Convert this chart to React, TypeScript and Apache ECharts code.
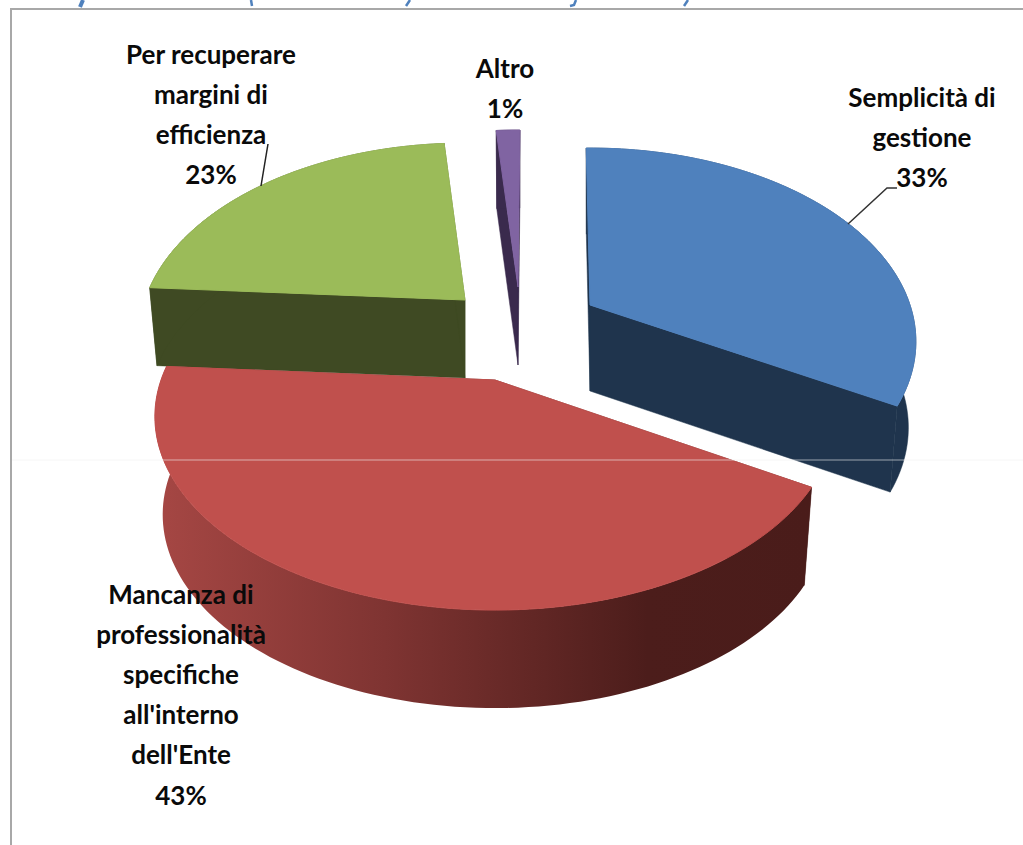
import React, { useEffect, useRef } from "react";
import * as echarts from "echarts";

// Data
const CATEGORIES = [
  "Semplicità di\ngestione",
  "Mancanza di\nprofessionalità\nspecifiche\nall'interno\ndell'Ente",
  "Per recuperare\nmargini di\nefficienza",
  "Altro",
];
const VALUES = [33.4, 42.5, 22.7, 1.4];

// Style / layout
const START_ANGLE = -1.4;
const TILT_K = 0.189;
const RY = 186.6;
const COLORS = ["#4f81bd", "#c0504d", "#9bbb59", "#8064a2"];
const DARK = ["#1f344d", "#4a1c1a", "#3f4a23", "#3a2a4d"];
const SLICE_LAYOUT = [
  { ax: 590, ay: 305, rx: 320, depth: 86, nudge: 0.6, z: 2 },
  { ax: 495, ay: 380, rx: 334, depth: 98, nudge: 2.4, z: 10 },
  { ax: 465, ay: 300, rx: 320, depth: 78, nudge: 2.0, z: 2 },
  { ax: 518, ay: 287, rx: 320, depth: 78, nudge: 1.8, z: 2 },
];
const LABEL_POS = [
  { x: 922, y: 137 },
  { x: 181, y: 694 },
  { x: 211, y: 114 },
  { x: 505, y: 88 },
];
const FONT = { fontFamily: "Lato", fontWeight: "bold" as const, fontSize: 26 };

function angles() {
  const total = VALUES.reduce((a, b) => a + b, 0);
  let cur = START_ANGLE;
  return VALUES.map((v, i) => {
    const a0 = cur + SLICE_LAYOUT[i].nudge;
    const span = (v / total) * 360;
    cur += span;
    return [a0, a0 + span];
  });
}

function project(i: number, deg: number, bottom: boolean): [number, number] {
  const s = SLICE_LAYOUT[i];
  const t = (deg * Math.PI) / 180;
  const w = 1 + TILT_K * Math.cos(t);
  const bs = bottom ? 0.977 : 1;
  return [
    s.ax + (s.rx * bs * Math.sin(t)) / w,
    s.ay - (RY * Math.cos(t)) / w + (bottom ? s.depth : 0),
  ];
}

function renderSlice(params: any) {
  const i = params.dataIndex;
  const [a0, a1] = angles()[i];
  const s = SLICE_LAYOUT[i];
  const steps = Math.max(8, Math.round((a1 - a0) / 1.5));
  const arcTop: [number, number][] = [];
  const arcBot: [number, number][] = [];
  for (let n = 0; n <= steps; n++) {
    const d = a0 + ((a1 - a0) * n) / steps;
    arcTop.push(project(i, d, false));
    arcBot.push(project(i, d, true));
  }
  const apexT: [number, number] = [s.ax, s.ay];
  const apexB: [number, number] = [s.ax, s.ay + s.depth];
  const wallFill: any =
    i === 1
      ? new echarts.graphic.LinearGradient(0, 0, 1, 0, [
          { offset: 0, color: "#a64744" },
          { offset: 0.35, color: "#7f3432" },
          { offset: 0.75, color: "#4c1d1b" },
          { offset: 1, color: "#4a1c1a" },
        ])
      : DARK[i];
  const flat = DARK[i];
  return {
    type: "group",
    children: [
      {
        type: "polygon",
        z2: s.z,
        shape: { points: [apexT, apexB, arcBot[0], arcTop[0]] },
        style: { fill: flat, stroke: flat, lineWidth: 0.5 },
      },
      {
        type: "polygon",
        z2: s.z,
        shape: { points: [apexT, apexB, arcBot[steps], arcTop[steps]] },
        style: { fill: flat, stroke: flat, lineWidth: 0.5 },
      },
      {
        type: "polygon",
        z2: s.z + 1,
        shape: { points: [...arcTop, ...arcBot.slice().reverse()] },
        style: { fill: wallFill, stroke: i === 1 ? undefined : flat, lineWidth: 0.5 },
      },
      {
        type: "polygon",
        z2: s.z + 2,
        shape: { points: [apexT, ...arcTop] },
        style: { fill: COLORS[i], stroke: COLORS[i], lineWidth: 1 },
      },
    ],
  };
}

export default function App() {
  const ref = useRef<HTMLDivElement>(null);
  useEffect(() => {
    const chart = echarts.init(ref.current!, undefined, { renderer: "svg" });
    const labels = CATEGORIES.map((c, i) => ({
      type: "text",
      x: LABEL_POS[i].x,
      y: LABEL_POS[i].y,
      z: 20,
      style: {
        text: `${c}\n${Math.round(VALUES[i])}%`,
        align: "center",
        verticalAlign: "middle",
        lineHeight: 40.2,
        fill: "#0a0a0a",
        ...FONT,
      },
    }));
    const stroke = (points: number[][], color: string, lineWidth: number, z = 15) => ({
      type: "polyline",
      z,
      shape: { points },
      style: { stroke: color, lineWidth, fill: "none" },
    });
    chart.setOption({
      animation: false,
      backgroundColor: "#ffffff",
      series: [
        {
          type: "custom",
          coordinateSystem: "none",
          silent: true,
          renderItem: renderSlice,
          data: VALUES.map((v) => [v]),
        },
      ],
      graphic: [
        stroke([[11, 845], [11, 9], [1023, 9]], "#a8a8a8", 2),
        stroke([[12, 460], [1023, 460]], "rgba(240,240,240,0.6)", 1),
        stroke([[268, 144], [261, 186]], "#222222", 1.5),
        stroke([[897, 188], [887, 188], [848, 224]], "#333333", 1.5),
        stroke([[83, 0], [80, 7]], "#4f81bd", 4),
        stroke([[251, 0], [252, 6]], "#4f81bd", 2.5),
        stroke([[410, 0], [406, 6]], "#4f81bd", 2.5),
        stroke([[576, 0], [574, 5], [570, 6]], "#4f81bd", 2.5),
        stroke([[688, 0], [684, 6]], "#4f81bd", 2.5),
        ...labels,
      ],
    });
    return () => chart.dispose();
  }, []);
  return (
    <div
      ref={ref}
      style={{ position: "fixed", left: 0, top: 0, width: 1023, height: 845 }}
    />
  );
}
